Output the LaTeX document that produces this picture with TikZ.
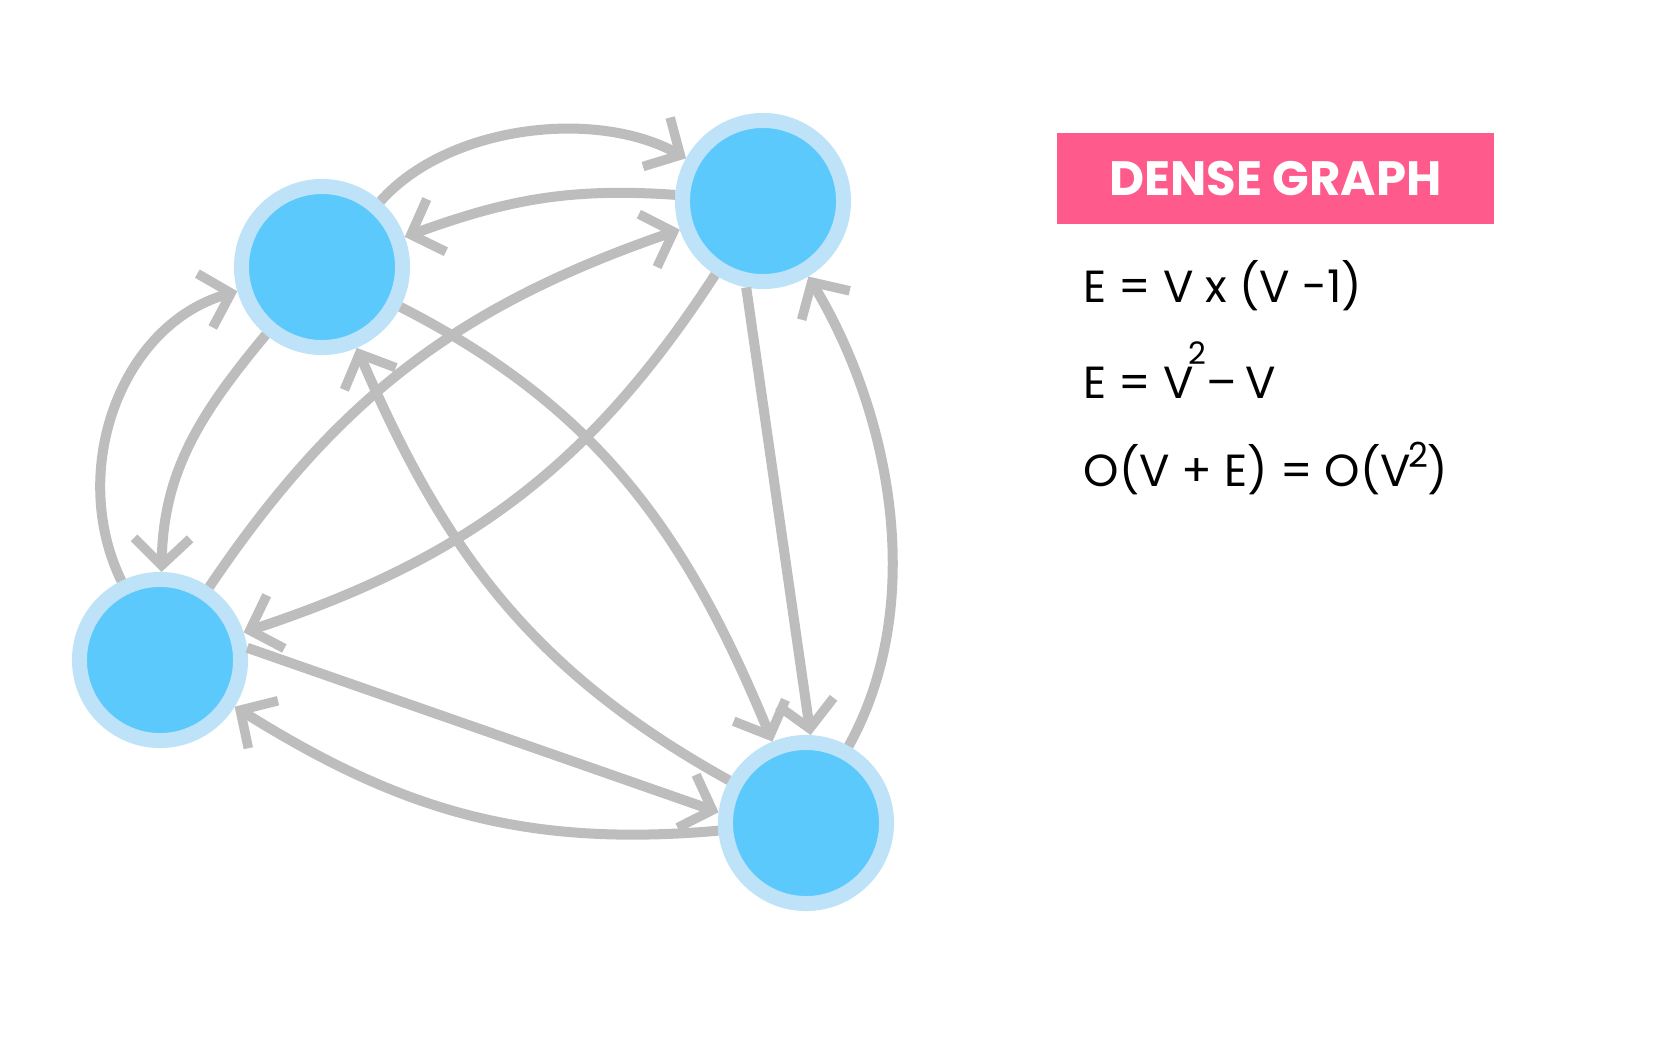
\documentclass[tikz,border=0pt]{standalone}
\usepackage{fontspec}
\setmainfont{Poppins}
\usetikzlibrary{arrows.meta}
\definecolor{ring}{HTML}{BEE3F8}
\definecolor{core}{HTML}{5BC9FC}
\definecolor{edgegray}{HTML}{BDBDBD}
\definecolor{titlepink}{HTML}{FF5A8C}
\begin{document}
\begin{tikzpicture}[x=0.01cm,y=0.01cm,
  vertex/.style={circle, fill=core, draw=ring, line width=0.15cm, minimum size=1.61cm, inner sep=0pt},
  conn/.style={draw=edgegray, line width=0.1cm, -{Straight Barb[length=0.27cm,width=0.56cm,line width=0.095cm]}},
  formula/.style={anchor=base west, inner sep=0pt, font=\fontsize{12.8}{14}\selectfont}
  ]
\useasboundingbox (0,0) rectangle (1679,1053);
\node[vertex] (A) at (322,786) {};
\node[vertex] (B) at (763,852) {};
\node[vertex] (C) at (160,393) {};
\node[vertex] (D) at (806,230) {};

\draw[conn] (A) to[out=48.7, in=151, looseness=0.85] (B);
\draw[conn] (B) to[out=176, in=20] (A);
\draw[conn] (C) to[out=56, in=199] (B);
\draw[conn] (B) to[out=237, in=18.4] (C);
\draw[conn] (B.259) -- (D.87);
\draw[conn] (D) to[out=61, in=301, looseness=0.88] (B);
\draw[conn] (A) to[out=-27, in=112.6] (D);
\draw[conn] (D) to[out=151, in=293.4] (A);
\draw[conn] (C.8) -- (D.173);
\draw[conn] (D) to[out=185, in=-32] (C);
\draw[conn] (A) to[out=230.6, in=89] (C);
\draw[conn] (C) to[out=116, in=196] (A);

\node[fill=titlepink, minimum width=4.37cm, minimum height=0.91cm, inner sep=0pt, text=white,
      font=\fontsize{13.7}{14}\selectfont\bfseries] (title) at (1275.5,874.5) {DENSE GRAPH};
\node[formula] (f1) at (1083,751) {E = V x (V -1)};
\node[formula] (f2) at (1083,655) {E = V\kern-0.05cm\raisebox{0.33cm}{\fontsize{8.8}{9}\selectfont 2}\kern0.0cm–\kern-0.04cm\ V};
\node[formula] (f3) at (1083,567) {O(V + E) = O(V\kern-0.03cm\raisebox{0.19cm}{\fontsize{9.8}{10}\selectfont 2})};
\end{tikzpicture}
\end{document}
